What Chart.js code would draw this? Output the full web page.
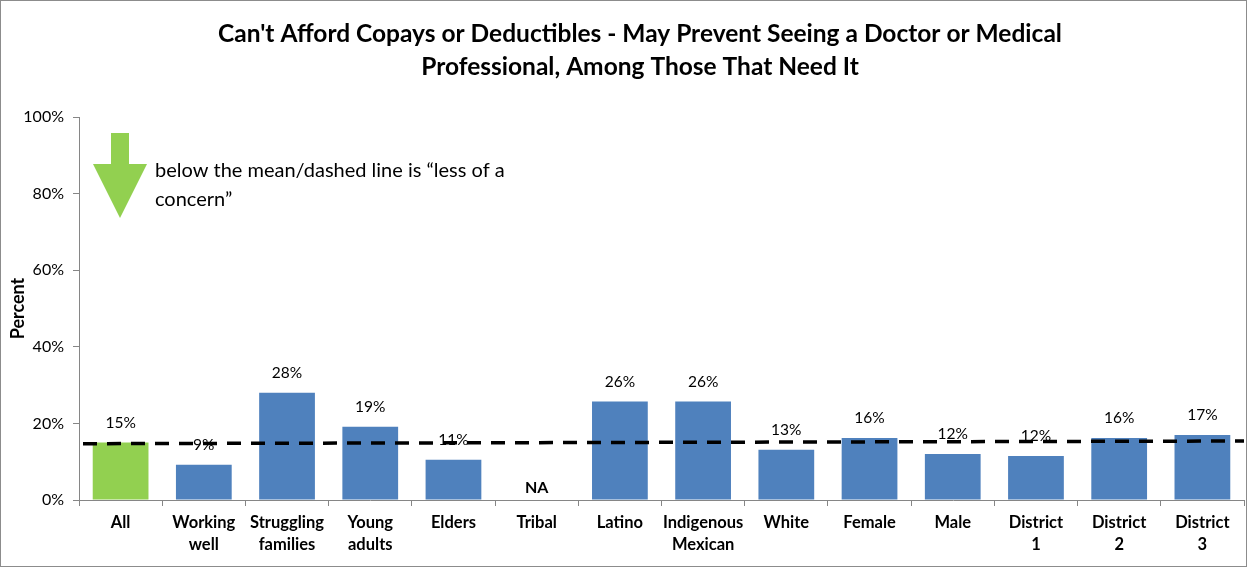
<!DOCTYPE html>
<html><head><meta charset="utf-8">
<script src="https://cdn.jsdelivr.net/npm/chart.js@4.4.0/dist/chart.umd.min.js"></script>
<style>
html,body{margin:0;padding:0;background:#fff;}
#wrap{position:relative;width:1247px;height:567px;box-sizing:border-box;border:1px solid #8c8c8c;}
canvas{display:block;}
</style></head>
<body><div id="wrap"><canvas id="c" width="1245" height="565"></canvas></div>
<script>
const categories = [["All"],["Working","well"],["Struggling","families"],["Young","adults"],["Elders"],["Tribal"],["Latino"],["Indigenous","Mexican"],["White"],["Female"],["Male"],["District","1"],["District","2"],["District","3"]];
const values = [15, 9.2, 28, 19.1, 10.5, null, 25.7, 25.7, 13.1, 16.2, 12.0, 11.5, 16.2, 17.0];
const valueLabels = ["15%","9%","28%","19%","11%","NA","26%","26%","13%","16%","12%","12%","16%","17%"];
const meanStart = 14.7, meanEnd = 15.4;
const yTicks = [0,20,40,60,80,100];
const titleLines = ["Can't Afford Copays or Deductibles - May Prevent Seeing a Doctor or Medical","Professional, Among Those That Need It"];
const noteLines = ["below the mean/dashed line is \u201cless of a","concern\u201d"];

const FONT = "Lato, 'Open Sans', sans-serif";
const barColors = values.map((v,i)=> i===0 ? '#92D050' : '#4F81BD');

const overlay = {
  id:'overlay',
  afterDatasetsDraw(chart){
    const ctx = chart.ctx;
    const meta = chart.getDatasetMeta(0);
    const ys = chart.scales.y;
    const ca = chart.chartArea;
    ctx.save();
    ctx.strokeStyle='#000'; ctx.lineWidth=3.5; ctx.setLineDash([14,10]);
    ctx.beginPath();
    ctx.moveTo(ca.left+4, ys.getPixelForValue(meanStart));
    ctx.lineTo(ca.right, ys.getPixelForValue(meanEnd));
    ctx.stroke();
    ctx.setLineDash([]);
    ctx.textAlign='center'; ctx.textBaseline='middle';
    meta.data.forEach((bar,i)=>{
      const v = values[i];
      if(v===null){
        ctx.font = "bold 16px "+FONT; ctx.fillStyle='#000';
        ctx.fillText(valueLabels[i], bar.x, ys.getPixelForValue(0)-12);
      } else {
        ctx.font = "15.5px "+FONT; ctx.fillStyle='#000';
        ctx.fillText(valueLabels[i], bar.x, ys.getPixelForValue(v)-20);
      }
    });
    ctx.restore();
  },
  afterDraw(chart){
    const ctx = chart.ctx;
    ctx.save();
    ctx.fillStyle='#000'; ctx.textAlign='center'; ctx.textBaseline='middle';
    ctx.font = "bold 24.5px "+FONT;
    ctx.fillText(titleLines[0], 639, 33);
    ctx.fillText(titleLines[1], 639, 66);
    ctx.fillStyle='#92D050';
    ctx.beginPath();
    ctx.moveTo(110,132); ctx.lineTo(128,132); ctx.lineTo(128,163); ctx.lineTo(146,163);
    ctx.lineTo(119,217); ctx.lineTo(92,163); ctx.lineTo(110,163); ctx.closePath(); ctx.fill();
    ctx.fillStyle='#000'; ctx.textAlign='left';
    ctx.font = "20px "+FONT;
    ctx.fillText(noteLines[0], 154, 170);
    ctx.fillText(noteLines[1], 154, 199);
    ctx.restore();
  }
};

new Chart(document.getElementById('c'), {
  type:'bar',
  data:{
    labels: categories,
    datasets:[
      {data: values, backgroundColor: barColors, borderWidth:0,
       barPercentage:0.67, categoryPercentage:1.0}
    ]
  },
  options:{
    responsive:false, animation:false,
    layout:{padding:{top:116, right:2, left:6, bottom:0}},
    plugins:{legend:{display:false}, tooltip:{enabled:false}, title:{display:false}},
    scales:{
      x:{
        grid:{display:true, offset:true, drawOnChartArea:false, color:'#868686', tickLength:6, tickColor:'#868686'},
        border:{color:'#868686', width:1},
        ticks:{color:'#000', font:{family:FONT, size:16.5, weight:'bold', lineHeight:1.3}, maxRotation:0, autoSkip:false, padding:6},
        afterFit(s){ s.height = 66; }
      },
      y:{
        min:0, max:100,
        afterBuildTicks(s){ s.ticks = yTicks.map(v=>({value:v})); },
        grid:{display:true, drawOnChartArea:false, color:'#868686', tickLength:6},
        border:{color:'#868686', width:1},
        ticks:{color:'#000', font:{family:FONT, size:16}, callback:v=>v+'%', padding:9},
        title:{display:true, text:'Percent', color:'#000', font:{family:FONT, size:18, weight:'bold'}, padding:{top:0,bottom:4}},
        afterFit(s){ s.width = 72; }
      }
    }
  },
  plugins:[overlay]
});
</script>
</body></html>
